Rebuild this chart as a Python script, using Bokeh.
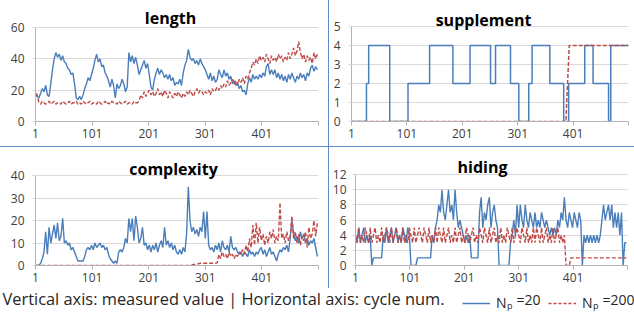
from bokeh.plotting import figure
from bokeh.models import Range1d, FixedTicker, Label, Spacer, Legend, LegendItem
from bokeh.layouts import column, row
from bokeh.embed import file_html
from bokeh.resources import INLINE

CYCLES = list(range(1, 500, 3))

LENGTH_NP20 = [17, 16, 15, 18, 21, 19, 23, 17, 16, 24,
               33, 40, 44, 41, 43, 39, 42, 38, 37, 34,
               33, 30, 31, 24, 15, 14, 16, 14, 17, 21,
               24, 28, 26, 30, 34, 39, 43, 38, 40, 35,
               36, 31, 29, 26, 22, 27, 23, 15, 24, 21,
               23, 27, 24, 19, 22, 44, 38, 42, 37, 41,
               36, 30, 33, 36, 39, 34, 37, 30, 22, 20,
               27, 31, 34, 30, 33, 31, 28, 30, 27, 30,
               26, 28, 23, 25, 24, 27, 23, 31, 36, 39,
               46, 41, 39, 40, 37, 39, 36, 40, 37, 35,
               33, 30, 27, 31, 26, 29, 25, 27, 33, 30,
               28, 33, 29, 31, 27, 29, 24, 26, 23, 25,
               21, 23, 19, 20, 17, 24, 28, 25, 30, 27,
               29, 27, 30, 28, 31, 29, 35, 37, 30, 33,
               30, 33, 28, 31, 27, 30, 26, 29, 25, 30,
               27, 31, 28, 25, 29, 27, 31, 28, 30, 26,
               31, 29, 34, 36, 32, 35, 33]
LENGTH_NP200 = [18, 17, 12, 11, 13, 12, 11, 12, 13, 11,
                12, 13, 11, 12, 12, 11, 13, 12, 11, 12,
                13, 11, 12, 12, 13, 11, 12, 11, 13, 12,
                11, 12, 13, 11, 12, 12, 11, 13, 12, 11,
                12, 13, 11, 12, 11, 13, 12, 12, 11, 13,
                12, 11, 12, 13, 11, 12, 12, 11, 13, 12,
                12, 13, 17, 15, 19, 16, 18, 20, 17, 19,
                16, 18, 21, 17, 19, 16, 20, 18, 15, 19,
                17, 15, 18, 16, 19, 17, 15, 18, 16, 19,
                17, 20, 18, 16, 19, 21, 18, 20, 19, 17,
                19, 18, 20, 17, 21, 19, 20, 22, 20, 23,
                21, 24, 22, 26, 23, 25, 27, 24, 26, 23,
                27, 25, 28, 24, 29, 27, 31, 34, 38, 36,
                40, 37, 42, 39, 41, 38, 43, 40, 37, 42,
                39, 41, 38, 43, 40, 42, 38, 41, 39, 44,
                40, 43, 47, 42, 45, 51, 44, 40, 43, 38,
                42, 39, 41, 37, 44, 40, 43]

COMPLEXITY_NP20 = [0, 0, 0, 1, 3, 6, 15, 5, 17, 10,
                   14, 18, 12, 19, 11, 13, 21, 10, 11, 9,
                   10, 7, 8, 6, 4, 2, 2, 2, 2, 4,
                   7, 8, 7, 9, 7, 10, 8, 9, 10, 8,
                   9, 7, 8, 5, 3, 2, 1, 2, 1, 6,
                   7, 6, 8, 12, 10, 21, 15, 21, 11, 22,
                   17, 10, 12, 17, 9, 10, 7, 9, 6, 9,
                   7, 10, 6, 9, 11, 8, 17, 9, 11, 8,
                   10, 7, 9, 6, 5, 7, 5, 8, 6, 14,
                   35, 20, 15, 17, 14, 16, 13, 17, 15, 24,
                   12, 24, 9, 7, 8, 6, 9, 7, 10, 6,
                   11, 8, 7, 9, 6, 13, 8, 7, 8, 6,
                   5, 6, 4, 6, 5, 4, 7, 5, 6, 4,
                   6, 5, 7, 8, 5, 7, 4, 6, 8, 5,
                   6, 4, 2, 5, 7, 6, 8, 7, 9, 6,
                   12, 20, 14, 11, 13, 10, 15, 12, 14, 10,
                   12, 9, 11, 10, 12, 8, 4]
COMPLEXITY_NP200 = [0, 0, 0, 0, 0, 0, 0, 0, 0, 0,
                    0, 0, 0, 0, 0, 0, 0, 0, 0, 0,
                    0, 0, 0, 0, 0, 0, 0, 0, 0, 0,
                    0, 0, 0, 0, 0, 0, 0, 0, 0, 0,
                    0, 0, 0, 0, 0, 0, 0, 0, 0, 0,
                    0, 0, 0, 0, 0, 0, 0, 0, 0, 0,
                    0, 0, 0, 0, 0, 0, 0, 0, 0, 0,
                    0, 0, 0, 0, 0, 0, 0, 0, 0, 0,
                    0, 0, 0, 0, 0, 0, 0, 0, 0, 0,
                    0, 0, 0.3, 0.5, 0.5, 0.7, 0.8, 1, 1, 1,
                    1, 1, 1, 1, 1, 1, 1, 1.2, 5, 3,
                    6, 4, 5, 3, 6, 4, 5, 3, 5, 4,
                    6, 5, 7, 5, 9, 6, 12, 8, 18, 9,
                    19, 10, 17, 11, 14, 9, 13, 10, 15, 12,
                    16, 10, 13, 11, 28, 12, 14, 10, 15, 11,
                    13, 22, 12, 15, 10, 14, 9, 13, 11, 15,
                    8, 17, 12, 14, 20, 13, 19]

HIDING_NP20 = [4, 3, 5, 3, 4, 5, 3, 4, 3, 4,
               0, 1, 1, 1, 1, 1, 1, 4, 3, 5,
               3, 4, 5, 3, 4, 5, 3, 4, 3, 5,
               4, 3, 5, 4, 0, 0, 0, 0, 1, 1,
               1, 1, 1, 1, 1, 1, 1, 4, 3, 5,
               6, 8, 7, 10, 7, 6, 8, 10, 7, 8,
               6, 10, 7, 5, 6, 5, 4, 3, 4, 3,
               4, 1, 1, 1, 1, 1, 7, 9, 5, 7,
               6, 8, 9, 5, 7, 8, 6, 5, 0, 0,
               0, 0, 0, 0, 0, 3, 4, 6, 4, 8,
               5, 8, 6, 5, 8, 6, 5, 7, 6, 5,
               7, 5, 6, 5, 7, 6, 5, 6, 5, 4,
               5, 4, 5, 4, 6, 5, 7, 6, 9, 6,
               5, 7, 6, 5, 7, 6, 5, 7, 6, 0,
               4, 3, 4, 3, 4, 3, 4, 3, 4, 3,
               4, 6, 8, 6, 7, 8, 6, 8, 5, 7,
               5, 7, 4, 7, 0, 3, 3]
HIDING_NP200 = [4, 3, 5, 3, 4, 3, 5, 4, 3, 5,
                3, 4, 5, 3, 4, 3, 5, 3, 4, 5,
                4, 3, 5, 3, 4, 5, 3, 4, 3, 5,
                3, 4, 3, 5, 4, 3, 5, 3, 4, 5,
                4, 3, 5, 4, 3, 5, 3, 4, 3, 5,
                3, 5, 4, 3, 5, 3, 4, 5, 3, 4,
                3, 5, 3, 4, 5, 3, 4, 3, 5, 4,
                3, 4, 5, 3, 4, 3, 5, 4, 3, 5,
                4, 3, 5, 3, 4, 5, 3, 4, 3, 5,
                3, 4, 3, 5, 4, 3, 5, 3, 4, 5,
                4, 3, 5, 4, 3, 5, 3, 4, 3, 5,
                3, 5, 4, 3, 5, 3, 4, 5, 3, 4,
                3, 5, 3, 4, 5, 3, 4, 3, 4, 0,
                0, 0, 1, 1, 1, 1, 1, 1, 1, 1,
                1, 1, 1, 1, 1, 1, 1, 1, 1, 1,
                1, 1, 1, 1, 1, 1, 1, 1, 1, 1,
                1, 1, 1, 1, 1, 1, 1]

# supplement: value changes (cycle where a new level starts)
SUPP_NP20_X = [1, 28, 32, 70, 103, 142, 184, 215, 252, 261, 288,
               303, 321, 327, 359, 384, 393, 422, 437, 465, 469, 501]
SUPP_NP20_Y = [0, 2, 4, 0, 2, 4, 2, 4, 2, 4, 2,
               0, 2, 4, 2, 0, 2, 4, 2, 0, 4, 4]
SUPP_NP200_X = [1, 388, 394, 501]
SUPP_NP200_Y = [0, 0, 4, 4]

X_TICKS = [1, 101, 201, 301, 401, 501]
TITLES = ["length", "supplement", "complexity", "hiding"]
NOTE = "Vertical axis: measured value | Horizontal axis: cycle num."
SERIES_LABELS = ["20", "200"]

# ---------------- style ----------------
BLUE = "#4a7ebb"
RED = "#be4b48"
SEP = "#5b8bc9"
AXIS = "#b3b3b3"
GRID = "#d9d9d9"
FONT = "Open Sans"
DASH = "4 2"


def make_panel(width, height, ymax, yticks, left, right, bottom, top_px,
               title, title_x, y_standoff):
    frame_h = height - bottom
    # the frame reaches the figure top so the title can sit inside it;
    # axis/grid stop at ymax (top_px pixels below the figure top)
    y_end = ymax * frame_h / (frame_h - top_px)
    p = figure(width=width, height=height,
               x_range=Range1d(1, 501), y_range=Range1d(0, y_end),
               output_backend="svg", toolbar_location=None,
               min_border_left=left, min_border_right=right,
               min_border_top=0, min_border_bottom=bottom)
    p.outline_line_color = None
    p.background_fill_color = "white"
    p.border_fill_color = "white"
    p.xgrid.visible = False
    p.ygrid.grid_line_color = GRID
    p.ygrid.grid_line_width = 1
    p.yaxis.ticker = FixedTicker(ticks=yticks)
    p.yaxis.bounds = (0, ymax)
    p.xaxis.ticker = FixedTicker(ticks=X_TICKS)
    p.xaxis.major_label_overrides = {501: ""}
    for ax in (p.xaxis[0], p.yaxis[0]):
        ax.axis_line_color = AXIS
        ax.axis_line_width = 1
        ax.major_tick_line_color = AXIS
        ax.minor_tick_line_color = None
        ax.major_tick_in = 0
        ax.major_label_text_font = FONT
        ax.major_label_text_font_size = "12px"
        ax.major_label_text_color = "#404040"
    p.xaxis.major_tick_out = 4
    p.xaxis.major_label_standoff = 3
    p.yaxis.major_tick_out = 3
    p.yaxis.major_tick_line_color = GRID
    p.yaxis.major_label_standoff = y_standoff
    title_y = frame_h - top_px + 7
    p.add_layout(Label(x=title_x, y=title_y, x_units="screen", y_units="screen",
                       text=title, text_align="center", text_baseline="alphabetic",
                       text_font=FONT, text_font_style="bold", text_font_size="16px",
                       text_color="#000000"))
    return p


f1 = make_panel(328, 146, 60, [0, 20, 40, 60], 35, 10, 22, 27.7, TITLES[0], 135, 8)
f1.line(CYCLES, LENGTH_NP20, line_color=BLUE, line_width=1.4)
f1.line(CYCLES, LENGTH_NP200, line_color=RED, line_width=1.4, line_dash=DASH)

f2 = make_panel(305, 146, 5, [0, 1, 2, 3, 4, 5], 22, 6, 25, 26, TITLES[1], 132, 8)
f2.step(SUPP_NP20_X, SUPP_NP20_Y, mode="after", line_color=BLUE, line_width=1.5)
f2.line(SUPP_NP200_X, SUPP_NP200_Y, line_color=RED, line_width=1.5, line_dash=DASH)

f3 = make_panel(328, 141, 40, [0, 10, 20, 30, 40], 35, 10, 23, 28, TITLES[2], 138, 8)
f3.line(CYCLES, COMPLEXITY_NP20, line_color=BLUE, line_width=1.4)
f3.line(CYCLES, COMPLEXITY_NP200, line_color=RED, line_width=1.4, line_dash=DASH)

f4 = make_panel(305, 141, 12, [0, 2, 4, 6, 8, 10, 12], 26, 7, 22, 27.3, TITLES[3], 127, 6)
f4.line(CYCLES, HIDING_NP20, line_color=BLUE, line_width=1.4)
f4.line(CYCLES, HIDING_NP200, line_color=RED, line_width=1.4, line_dash=DASH)

# ---------------- bottom note + legend ----------------
LEG_W, LEG_H = 634, 27
leg = figure(width=LEG_W, height=LEG_H, x_range=Range1d(0, LEG_W), y_range=Range1d(0, LEG_H),
             output_backend="svg", toolbar_location=None,
             x_axis_location=None, y_axis_location=None, min_border=0)
leg.grid.visible = False
leg.outline_line_color = None
leg.add_layout(Label(x=2, y=6, x_units="screen", y_units="screen", text=NOTE,
                     text_font=FONT, text_font_size="16.4px", text_color="#262626"))
NAN = float("nan")
r_blue = leg.line(x=[NAN], y=[NAN], line_color=BLUE, line_width=1.5)
r_red = leg.line(x=[NAN], y=[NAN], line_color=RED, line_width=1.5, line_dash="3 2")
for r, x0, lab in ((r_blue, 462, SERIES_LABELS[0]), (r_red, 548, SERIES_LABELS[1])):
    lg = Legend(items=[LegendItem(label="N", renderers=[r])], location=(x0, 3),
                orientation="horizontal", glyph_width=28, glyph_height=16,
                label_standoff=6, padding=0, margin=0, spacing=0,
                border_line_color=None, background_fill_alpha=0,
                label_text_font=FONT, label_text_font_size="14px",
                label_text_color="#262626")
    leg.add_layout(lg)
    leg.add_layout(Label(x=x0 + 44.5, y=3.5, x_units="screen", y_units="screen", text="p",
                         text_font=FONT, text_font_size="9px", text_color="#262626"))
    leg.add_layout(Label(x=x0 + 54, y=6.5, x_units="screen", y_units="screen", text="=" + lab,
                         text_font=FONT, text_font_size="14px", text_color="#262626"))

vsep1 = Spacer(width=1, height=146, styles={"background-color": SEP})
vsep2 = Spacer(width=1, height=141, styles={"background-color": SEP})
hsep = Spacer(width=634, height=1, styles={"background-color": SEP})

layout = column(row(f1, vsep1, f2), hsep, row(f3, vsep2, f4), leg)

open("out.html", "w").write(file_html(layout, INLINE))
